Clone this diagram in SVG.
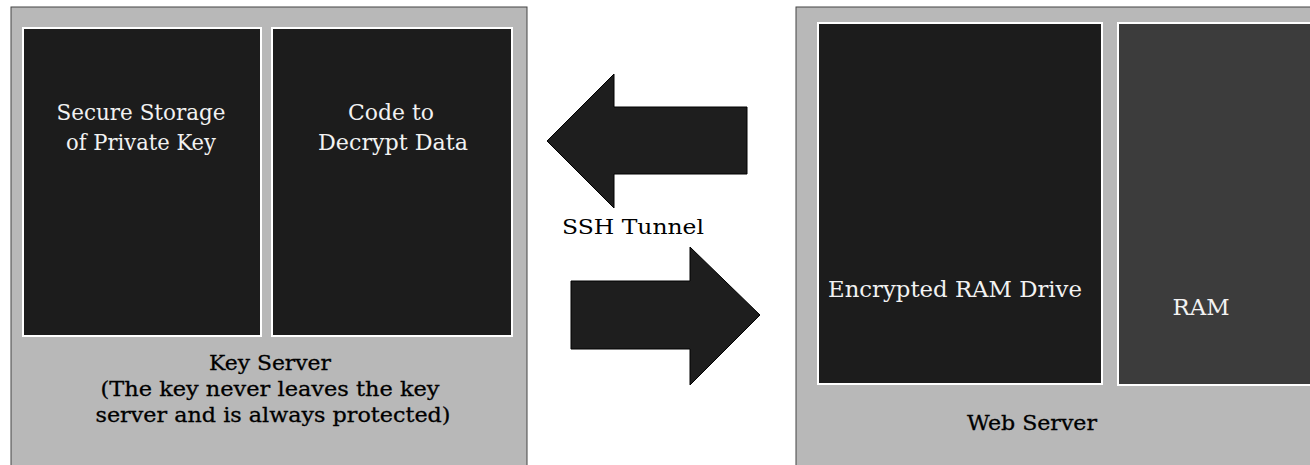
<svg xmlns="http://www.w3.org/2000/svg" width="1310" height="465" viewBox="0 0 1310 465">
<style>
.outer{fill:#b8b8b8;stroke:#444;stroke-width:1}
.inner{fill:#1c1c1c;stroke:#ffffff;stroke-width:2}
.ram{fill:#3c3c3c;stroke:#ffffff;stroke-width:2}
.arrow{fill:#1e1e1e;stroke:#000;stroke-width:1}
.lt{font-family:"DejaVu Serif","Liberation Serif",serif;font-size:23px;fill:#f2f2f2;text-anchor:middle}
.dt{font-family:"DejaVu Serif","Liberation Serif",serif;font-size:21px;fill:#000;text-anchor:middle;stroke:#000;stroke-width:0.3}
</style>
<rect width="1310" height="465" fill="#ffffff"/>
<g id="key-server">
<rect class="outer" x="11" y="7" width="516" height="462"/>
<text class="dt" x="270" y="370" textLength="122" lengthAdjust="spacingAndGlyphs">Key Server</text>
<text class="dt" x="270" y="396" textLength="339" lengthAdjust="spacingAndGlyphs">(The key never leaves the key</text>
<text class="dt" x="273" y="422" textLength="355" lengthAdjust="spacingAndGlyphs">server and is always protected)</text>
</g>
<g id="secure-storage">
<rect class="inner" x="23" y="28" width="238" height="308"/>
<text class="lt" x="141" y="120" textLength="169" lengthAdjust="spacingAndGlyphs">Secure Storage</text>
<text class="lt" x="141" y="150" textLength="150" lengthAdjust="spacingAndGlyphs">of Private Key</text>
</g>
<g id="decrypt-code">
<rect class="inner" x="272" y="28" width="240" height="308"/>
<text class="lt" x="391" y="120" textLength="86" lengthAdjust="spacingAndGlyphs">Code to</text>
<text class="lt" x="393" y="150" textLength="150" lengthAdjust="spacingAndGlyphs">Decrypt Data</text>
</g>
<g id="web-server">
<rect class="outer" x="796" y="7" width="520" height="462"/>
<text class="dt" x="1032" y="430" textLength="130" lengthAdjust="spacingAndGlyphs">Web Server</text>
</g>
<g id="encrypted-ram-drive">
<rect class="inner" x="818" y="23" width="284" height="361"/>
<text class="lt" x="955" y="297" textLength="254" lengthAdjust="spacingAndGlyphs">Encrypted RAM Drive</text>
</g>
<g id="ram">
<rect class="ram" x="1118" y="23" width="200" height="362"/>
<text class="lt" x="1201" y="315" textLength="57" lengthAdjust="spacingAndGlyphs">RAM</text>
</g>
<g id="connectors">
<polygon class="arrow" points="547,141 614,74 614,107 747,107 747,174 614,174 614,208"/>
<polygon class="arrow" points="571,281 690,281 690,247 760,315 690,385 690,349 571,349"/>
<text x="633" y="234" textLength="142" lengthAdjust="spacingAndGlyphs" style="font-family:'DejaVu Serif','Liberation Serif',serif;font-size:21px;fill:#000;text-anchor:middle">SSH Tunnel</text>
</g>
</svg>
